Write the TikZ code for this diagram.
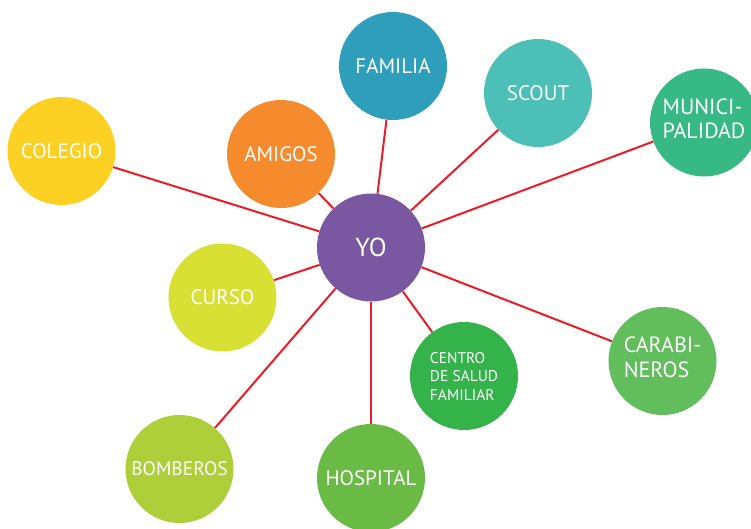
\documentclass[tikz,border=0pt]{standalone}
\usepackage{fontspec}
\setmainfont{PT Sans}
\definecolor{cyo}{HTML}{7A57A1}
\definecolor{ccol}{HTML}{FDD024}
\definecolor{cami}{HTML}{F58B2D}
\definecolor{cfam}{HTML}{2F9EBB}
\definecolor{csco}{HTML}{4CC0B6}
\definecolor{cmun}{HTML}{37B986}
\definecolor{ccur}{HTML}{D9E034}
\definecolor{ccen}{HTML}{35B34B}
\definecolor{ccar}{HTML}{62BD5C}
\definecolor{cbom}{HTML}{AECF3A}
\definecolor{chos}{HTML}{6ABB46}
\definecolor{clink}{HTML}{ED1C24}
\tikzset{
  bub/.style={circle, fill=#1, minimum size=108pt, inner sep=0pt, text=white, font=\fontsize{21}{23}\selectfont},
  link/.style={draw=clink, line width=2pt}
}
\begin{document}
\begin{tikzpicture}[x=1pt,y=-1pt]
\useasboundingbox (0,0) rectangle (751,529);
\node[bub=cyo, font=\fontsize{26}{28}\selectfont] (yo) at (371,247.5) {YO};
\node[bub=ccol] (col) at (61.5,151) {COLEGIO};
\node[bub=cami] (ami) at (281,154) {AMIGOS};
\node[bub=cfam] (fam) at (393,66) {FAMILIA};
\node[bub=csco] (sco) at (538,93) {SCOUT};
\node[bub=cmun, label={[text=white, align=left, font=\fontsize{22}{24}\selectfont, yshift=3.5pt]center:MUNICI-\\PALIDAD}] (mun) at (704,122.5) {};
\node[bub=ccur] (cur) at (222.5,297.5) {CURSO};
\node[bub=ccen, align=left, font=\fontsize{15.5}{18.5}\selectfont] (cen) at (464,376) {CENTRO\\DE SALUD\\FAMILIAR};
\node[bub=ccar, label={[text=white, align=left, font=\fontsize{22}{25}\selectfont, yshift=4pt]center:CARABI-\\NEROS}] (car) at (662.5,361) {};
\node[bub=cbom, font=\fontsize{19.5}{22}\selectfont] (bom) at (179.5,469) {BOMBEROS};
\node[bub=chos] (hos) at (371,478) {HOSPITAL};
\foreach \n in {col,ami,fam,sco,mun,cur,cen,car,bom,hos}
  \draw[link] (yo) -- (\n);
\end{tikzpicture}
\end{document}
